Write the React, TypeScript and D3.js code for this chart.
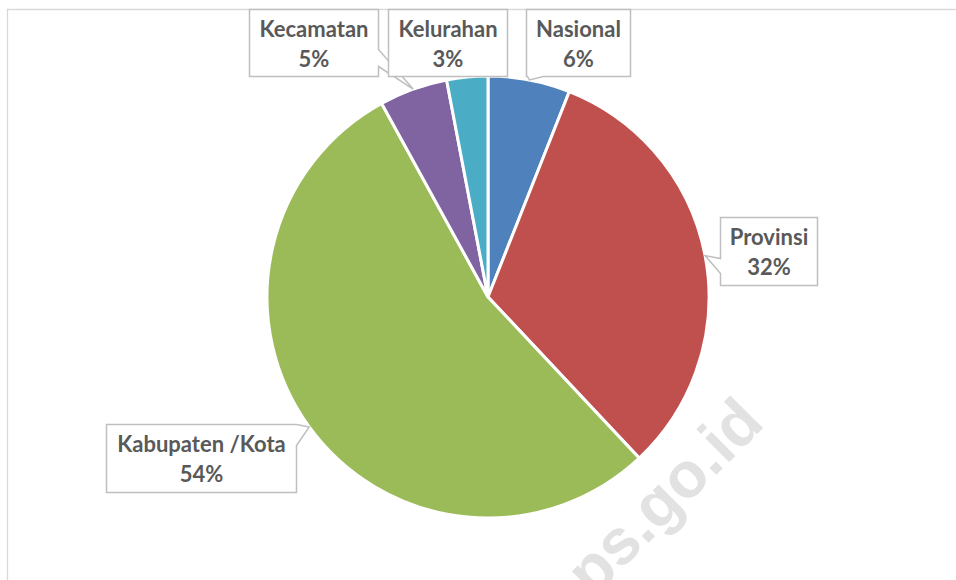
import React from "react";
import * as d3 from "d3";

const width = 956;
const height = 580;

// data
const categories = ["Nasional", "Provinsi", "Kabupaten /Kota", "Kecamatan", "Kelurahan"];
const shares = [6, 32, 54, 5, 3];
const colors = ["#4F81BD", "#C0504D", "#9BBB59", "#8064A2", "#4BACC6"];

// callout layout: box offset from the slice's outer mid point, size, and which edge the pointer leaves from
type Callout = { dx: number; dy: number; w: number; h: number; side: string; a: number; b: number };
const callouts: Callout[] = [
  { dx: -3, dy: -71, w: 104, h: 67, side: "bottom", a: 1, b: 17 },
  { dx: 15, dy: -39, w: 97, h: 68, side: "left", a: 41, b: 56 },
  { dx: -203, dy: -3, w: 190, h: 68, side: "right", a: 0, b: 21 },
  { dx: -164, dy: -80, w: 129, h: 67, side: "right", a: 40, b: 57 },
  { dx: -79, dy: -68, w: 119, h: 67, side: "none", a: 0, b: 0 },
];

const cx = 488;
const cy = 297;
const radius = 221;

const calloutPath = (x: number, y: number, w: number, h: number, c: Callout, tx: number, ty: number) => {
  const p = d3.path();
  p.moveTo(x, y);
  p.lineTo(x + w, y);
  if (c.side === "right") {
    p.lineTo(x + w, y + c.a);
    p.lineTo(tx, ty);
    p.lineTo(x + w, y + c.b);
  }
  p.lineTo(x + w, y + h);
  if (c.side === "bottom") {
    p.lineTo(x + c.b, y + h);
    p.lineTo(tx, ty);
    p.lineTo(x + c.a, y + h);
  }
  p.lineTo(x, y + h);
  if (c.side === "left") {
    p.lineTo(x, y + c.b);
    p.lineTo(tx, ty);
    p.lineTo(x, y + c.a);
  }
  p.closePath();
  return p.toString();
};

const App = () => {
  const pie = d3
    .pie<number>()
    .sort(null)
    .value((d) => d);
  const arcs = pie(shares);

  const arc = d3.arc<d3.PieArcDatum<number>>().innerRadius(0).outerRadius(radius);
  const edgeArc = d3.arc<d3.PieArcDatum<number>>().innerRadius(radius).outerRadius(radius);

  const total = d3.sum(shares);

  return (
    <svg
      width={width}
      height={height}
      style={{ position: "absolute", left: 0, top: 0, background: "#fff" }}
    >
      <path d={`M7.5,${height} V9.5 H${width}`} fill="none" stroke="#d9d9d9" strokeWidth={1.3} />

      <text
        transform="translate(650,510) rotate(-45)"
        textAnchor="middle"
        dominantBaseline="central"
        fontFamily="'Liberation Sans', Arial, sans-serif"
        fontWeight="bold"
        fontSize={64}
        fill="#e2e2e2"
      >
        bps.go.id
      </text>

      <g transform={`translate(${cx},${cy})`}>
        {arcs.map((d, i) => (
          <path key={categories[i]} d={arc(d) || ""} fill={colors[i]} stroke="#fff" strokeWidth={3} />
        ))}
      </g>

      {arcs.map((d, i) => {
        const [ex, ey] = edgeArc.centroid(d);
        const tx = cx + ex;
        const ty = cy + ey;
        const c = callouts[i];
        const x = Math.round(tx + c.dx) + 0.5;
        const y = Math.round(ty + c.dy) + 0.5;
        const pct = Math.round((shares[i] / total) * 100) + "%";
        return (
          <g key={categories[i]}>
            <path
              d={calloutPath(x, y, c.w, c.h, c, tx, ty)}
              fill="#fff"
              stroke="#bfbfbf"
              strokeWidth={1.5}
            />
            <text
              x={x + c.w / 2}
              textAnchor="middle"
              fontFamily="Lato, 'Open Sans', sans-serif"
              fontWeight="bold"
              fontSize={22}
              fill="#595959"
            >
              <tspan x={x + c.w / 2} y={y + 27}>
                {categories[i]}
              </tspan>
              <tspan x={x + c.w / 2} y={y + 57}>
                {pct}
              </tspan>
            </text>
          </g>
        );
      })}
    </svg>
  );
};

export default App;
